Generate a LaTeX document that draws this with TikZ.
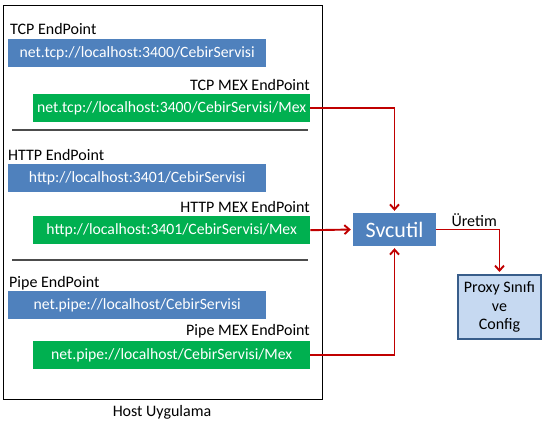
\documentclass[tikz,border=0pt]{standalone}
\usepackage{fontspec}
\setmainfont{Carlito}
\usetikzlibrary{arrows.meta}
\definecolor{epblue}{HTML}{4F81BD}
\definecolor{epgreen}{HTML}{00B050}
\definecolor{mexred}{HTML}{C00000}
\definecolor{proxyfill}{HTML}{C6D9F1}
\definecolor{proxyline}{HTML}{385D8A}
\begin{document}
\begin{tikzpicture}[x=1pt,y=-1pt,
        every node/.style={font=\fontsize{16}{18.5}\selectfont, inner sep=0pt},
        epbox/.style={anchor=north west, minimum height=28pt, text=white,
            font=\fontsize{15.7}{18}\selectfont},
        tcpbox/.style={epbox, fill=epblue, minimum width=258pt},
        mexbox/.style={epbox, fill=epgreen, minimum width=277pt},
        mexline/.style={->, mexred, line width=1.9pt, shorten >=2pt}]
        \tikzset{>={Straight Barb[length=5pt,width=9pt]}}
        \useasboundingbox (0,0) rectangle (546,427);
        % host
        \node[draw, line width=1.3pt, anchor=north west, minimum width=319pt, minimum height=394pt] (host) at (3,5) {};
        \node (hostlbl) at (162,412) {Host Uygulama};
        % tcp
        \node[anchor=base west] (tcplbl) at (10,34.7) {TCP EndPoint};
        \node[tcpbox] (tcp) at (8,38.7) {net.tcp://localhost:3400/CebirServisi};
        \node[anchor=base east] (tcpmexlbl) at (310,90.5) {TCP MEX EndPoint};
        \node[mexbox] (tcpmex) at (33,94) {net.tcp://localhost:3400/CebirServisi/Mex};
        \draw[gray!60!black, line width=1.3pt] (12,130) -- (308,130);
        % http
        \node[anchor=base west] (httplbl) at (8,160.7) {HTTP EndPoint};
        \node[tcpbox] (http) at (8,164) {http://localhost:3401/CebirServisi};
        \node[anchor=base east] (httpmexlbl) at (310,212.3) {HTTP MEX EndPoint};
        \node[mexbox] (httpmex) at (33,216) {http://localhost:3401/CebirServisi/Mex};
        \draw[gray!60!black, line width=1.3pt] (12,260) -- (308,260);
        % pipe
        \node[anchor=base west] (pipelbl) at (9,287.3) {Pipe EndPoint};
        \node[tcpbox] (pipe) at (8,291) {net.pipe://localhost/CebirServisi};
        \node[anchor=base east] (pipemexlbl) at (310,335.3) {Pipe MEX EndPoint};
        \node[mexbox] (pipemex) at (33,341) {net.pipe://localhost/CebirServisi/Mex};
        % svcutil and proxy
        \node[fill=epblue, text=white, minimum width=83pt, minimum height=33pt,
            font=\fontsize{22}{25}\selectfont] (svc) at (394.5,229.5) {Svcutil};
        \node[fill=proxyfill, draw=proxyline, line width=2pt, minimum width=83pt, minimum height=64pt,
            align=center] (proxy) at (499.5,307) {Proxy Sınıfı\\ve\\Config};
        \draw[mexline] (tcpmex.east) -| (svc.north);
        \draw[mexline] (httpmex.east) -- (svc.west);
        \draw[mexline] (pipemex.east) -| (svc.south);
        \draw[mexline] (svc.east) -| node[above=1.5pt, pos=0.3, text=black] {Üretim} (proxy.north);
    \end{tikzpicture}
\end{document}
